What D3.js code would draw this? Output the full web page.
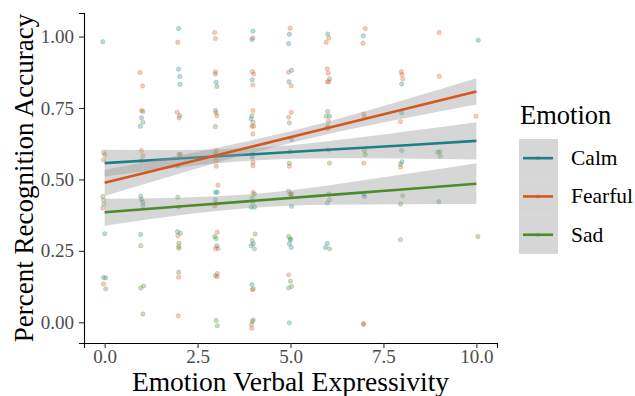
<!DOCTYPE html>
<html>
<head>
<meta charset="utf-8">
<script src="https://cdn.jsdelivr.net/npm/d3@7"></script>
<style>
  body { margin: 0; background: #fff; }
  text { font-family: "Liberation Serif", "Times New Roman", serif; }
</style>
</head>
<body>
<svg id="chart" width="635" height="396"></svg>
<script>
(function () {
  'use strict';

  // Data
  const emotions = ['Calm', 'Fearful', 'Sad'];
  const emotionColors = ['#1c8088', '#d5561e', '#4b8b29'];

  const calmPoints = [
    [-0.05, 0.982], [0.0, 0.31], [-0.03, 0.157], [-0.02, 0.414],
    [0.99, 0.716], [0.96, 0.686], [0.97, 0.441], [0.99, 0.43], [1.03, 0.408], [0.97, 0.307],
    [1.99, 1.028], [1.99, 0.886], [2.02, 0.86], [2.03, 0.833], [2.02, 0.723], [1.97, 0.548], [1.99, 0.403], [1.96, 0.317],
    [3.0, 0.84], [2.98, 0.741], [2.98, 0.455], [3.03, 0.455], [2.98, 0.429], [3.02, 0.268],
    [3.99, 1.019], [3.96, 0.99], [3.97, 0.849], [3.94, 0.712], [3.97, 0.578], [3.97, 0.435], [3.94, 0.403], [4.03, 0.403], [4.0, 0.275], [3.94, 0.268], [3.96, 0.132],
    [4.97, 1.008], [4.95, 0.975], [5.03, 0.882], [4.96, 0.842], [5.03, 0.64], [4.99, 0.598], [5.03, 0.406], [5.0, 0.289], [4.97, 0.275], [5.02, 0.262], [4.97, -0.002],
    [6.0, 1.009], [6.05, 0.721], [6.0, 0.686], [5.99, 0.418], [5.99, 0.276], [5.94, 0.262],
    [6.96, 1.003], [6.97, 0.449], [6.99, 0.44],
    [7.99, 0.834], [7.99, 0.733], [7.99, 0.601], [8.0, 0.562],
    [8.96, 0.595], [8.99, 0.422],
    [10.05, 0.987]
  ];

  const fearfulPoints = [
    [-0.03, 0.595], [-0.03, 0.568], [-0.03, 0.428], [-0.05, 0.4], [-0.03, 0.134],
    [0.95, 0.874], [1.02, 0.827], [0.99, 0.741], [0.99, 0.601], [1.03, 0.583],
    [1.97, 0.98], [1.95, 0.735], [2.0, 0.715], [2.0, 0.587], [1.97, 0.303], [1.99, 0.265], [1.99, 0.158], [1.98, 0.023],
    [2.96, 1.014], [2.98, 0.993], [2.98, 0.877], [3.0, 0.733], [3.02, 0.723], [3.0, 0.566], [3.0, 0.546], [3.05, 0.48], [3.0, 0.415], [2.96, 0.407], [3.03, 0.315], [2.98, 0.258], [3.05, 0.258], [3.03, 0.171], [3.03, 0.16],
    [3.99, 0.995], [3.97, 0.877], [4.01, 0.869], [3.99, 0.831], [3.99, 0.741], [3.96, 0.686], [4.01, 0.686], [3.99, 0.659], [3.99, 0.56], [3.99, 0.548], [3.99, 0.455], [3.97, 0.114], [3.95, -0.008], [3.96, -0.021],
    [4.99, 1.029], [4.95, 0.875], [5.02, 0.828], [5.02, 0.735], [4.95, 0.718], [4.97, 0.546], [5.0, 0.449], [5.02, 0.443], [4.95, 0.166],
    [6.03, 0.995], [5.96, 0.98], [5.99, 0.887], [6.01, 0.872], [5.99, 0.842], [6.03, 0.842], [6.02, 0.704],
    [7.01, 1.028], [6.95, 0.977], [6.97, 0.729], [6.97, 0.557], [6.97, -0.004],
    [7.98, 0.877], [8.0, 0.867], [8.02, 0.852], [7.96, 0.702], [7.96, 0.543],
    [9.0, 1.014], [9.0, 0.861],
    [9.99, 0.721]
  ];

  const sadPoints = [
    [0.0, 0.586], [-0.05, 0.44], [0.03, 0.155], [0.03, 0.117],
    [1.03, 0.738], [1.03, 0.7], [0.99, 0.566], [1.03, 0.42], [0.97, 0.268], [0.97, 0.12], [1.05, 0.127], [1.03, 0.029],
    [2.04, 0.587], [1.97, 0.438], [2.04, 0.312], [2.0, 0.277], [2.0, 0.259], [1.99, 0.175],
    [2.98, 0.869], [3.02, 0.825], [2.98, 0.685], [3.0, 0.601], [2.98, 0.589], [2.96, 0.3], [3.0, 0.293], [2.98, 0.163], [3.0, 0.006], [3.03, -0.012],
    [3.96, 0.723], [3.99, 0.7], [3.99, 0.589], [4.03, 0.449], [3.99, 0.42], [4.05, 0.309], [3.97, 0.286], [4.03, 0.257], [4.0, 0.117], [4.0, 0.008], [3.97, 0.003],
    [4.97, 0.698], [4.97, 0.557], [4.95, 0.459], [5.02, 0.449], [4.95, 0.3], [5.0, 0.292], [5.0, 0.144], [4.95, 0.12], [5.03, 0.125],
    [6.05, 0.852], [6.0, 0.678], [6.0, 0.738], [5.96, 0.721], [6.02, 0.603], [6.05, 0.557], [6.03, 0.449], [6.05, 0.429], [6.05, 0.257],
    [6.99, 0.716], [6.99, 0.601], [7.01, 0.587], [6.96, -0.008],
    [7.96, 0.554], [8.02, 0.443], [7.96, 0.414], [7.96, 0.289],
    [9.02, 0.597], [9.03, 0.581],
    [10.04, 0.3]
  ];

  // fitted lines and confidence bands
  const fitX = [0, 2, 4, 6, 8, 10];
  const calmFit = [0.557, 0.573, 0.588, 0.604, 0.619, 0.635];
  const calmLow = [0.510, 0.542, 0.566, 0.574, 0.573, 0.570];
  const calmHigh = [0.604, 0.603, 0.610, 0.634, 0.666, 0.700];
  const fearfulFit = [0.488, 0.552, 0.616, 0.680, 0.744, 0.808];
  const fearfulLow = [0.442, 0.520, 0.594, 0.658, 0.712, 0.762];
  const fearfulHigh = [0.534, 0.584, 0.638, 0.702, 0.776, 0.854];
  const sadFit = [0.385, 0.405, 0.425, 0.445, 0.465, 0.485];
  const sadLow = [0.338, 0.375, 0.401, 0.411, 0.413, 0.414];
  const sadHigh = [0.432, 0.436, 0.449, 0.479, 0.517, 0.557];

  const xTicks = [0, 2.5, 5, 7.5, 10];
  const yTicks = [0, 0.25, 0.5, 0.75, 1];

  const groups = [
    { name: emotions[0], color: emotionColors[0], points: calmPoints, fit: calmFit, low: calmLow, high: calmHigh },
    { name: emotions[1], color: emotionColors[1], points: fearfulPoints, fit: fearfulFit, low: fearfulLow, high: fearfulHigh },
    { name: emotions[2], color: emotionColors[2], points: sadPoints, fit: sadFit, low: sadLow, high: sadHigh }
  ];

  const serif = '"Liberation Serif", "Times New Roman", serif';
  const panel = { left: 84, right: 497, top: 13, bottom: 343 };

  const svg = d3.select('#chart');

  const x = d3.scaleLinear().domain([-0.555, 10.555]).range([panel.left, panel.right]);
  const y = d3.scaleLinear().domain([-0.0725, 1.0825]).range([panel.bottom, panel.top]);

  // jittered points
  const pointLayer = svg.append('g');
  groups.forEach(g => {
    pointLayer.selectAll(null)
      .data(g.points)
      .enter().append('circle')
      .attr('cx', d => x(d[0]))
      .attr('cy', d => y(d[1]))
      .attr('r', 2.2)
      .attr('fill', g.color)
      .attr('fill-opacity', 0.3)
      .attr('stroke', g.color)
      .attr('stroke-opacity', 0.3)
      .attr('stroke-width', 0.7);
  });

  // smooth: ribbon then line, group by group
  const area = d3.area()
    .x(d => x(d.x))
    .y0(d => y(d.low))
    .y1(d => y(d.high))
    .curve(d3.curveMonotoneX);
  const line = d3.line()
    .x(d => x(d.x))
    .y(d => y(d.fit));

  groups.forEach(g => {
    const rows = fitX.map((v, i) => ({ x: v, fit: g.fit[i], low: g.low[i], high: g.high[i] }));
    svg.append('path')
      .datum(rows)
      .attr('d', area)
      .attr('fill', '#999999')
      .attr('fill-opacity', 0.4);
    svg.append('path')
      .datum(rows)
      .attr('d', line)
      .attr('fill', 'none')
      .attr('stroke', g.color)
      .attr('stroke-width', 2.6);
  });

  // axes
  const xAxis = svg.append('g')
    .attr('transform', 'translate(0,' + panel.bottom + ')')
    .call(d3.axisBottom(x).tickValues(xTicks).tickFormat(d3.format('.1f')).tickSizeOuter(0).tickSize(5).tickPadding(2));
  const yAxis = svg.append('g')
    .attr('transform', 'translate(' + panel.left + ',0)')
    .call(d3.axisLeft(y).tickValues(yTicks).tickFormat(d3.format('.2f')).tickSizeOuter(0).tickSize(5).tickPadding(5));

  [xAxis, yAxis].forEach(a => {
    a.attr('font-family', serif).attr('font-size', 19);
    a.select('.domain').attr('stroke', '#000').attr('stroke-width', 1.1);
    a.selectAll('.tick line').attr('stroke', '#333').attr('stroke-width', 1.1);
    a.selectAll('.tick text').attr('fill', '#4d4d4d');
  });

  svg.append('text')
    .attr('x', (panel.left + panel.right) / 2)
    .attr('y', 391)
    .attr('text-anchor', 'middle')
    .style('font-size', '27.5px')
    .text('Emotion Verbal Expressivity');

  svg.append('text')
    .attr('transform', 'translate(33,' + (panel.top + panel.bottom) / 2 + ') rotate(-90)')
    .attr('text-anchor', 'middle')
    .style('font-size', '27px')
    .text('Percent Recognition Accuracy');

  // legend
  const legend = svg.append('g').attr('transform', 'translate(519,0)');
  legend.append('text')
    .attr('x', 1)
    .attr('y', 124)
    .style('font-size', '26.5px')
    .text('Emotion');

  const keyH = 38.3;
  groups.forEach((g, i) => {
    const top = 139 + i * keyH;
    legend.append('rect')
      .attr('x', 0)
      .attr('y', top)
      .attr('width', 39)
      .attr('height', keyH)
      .attr('fill', '#999999')
      .attr('fill-opacity', 0.4);
    legend.append('line')
      .attr('x1', 4)
      .attr('x2', 34)
      .attr('y1', top + keyH / 2)
      .attr('y2', top + keyH / 2)
      .attr('stroke', g.color)
      .attr('stroke-width', 2.6);
    legend.append('circle')
      .attr('cx', 19)
      .attr('cy', top + keyH / 2)
      .attr('r', 2.2)
      .attr('fill', g.color)
      .attr('fill-opacity', 0.3);
    legend.append('text')
      .attr('x', 52)
      .attr('y', top + keyH / 2 + 7)
      .style('font-size', '21.5px')
      .text(g.name);
  });
}());
</script>
</body>
</html>
